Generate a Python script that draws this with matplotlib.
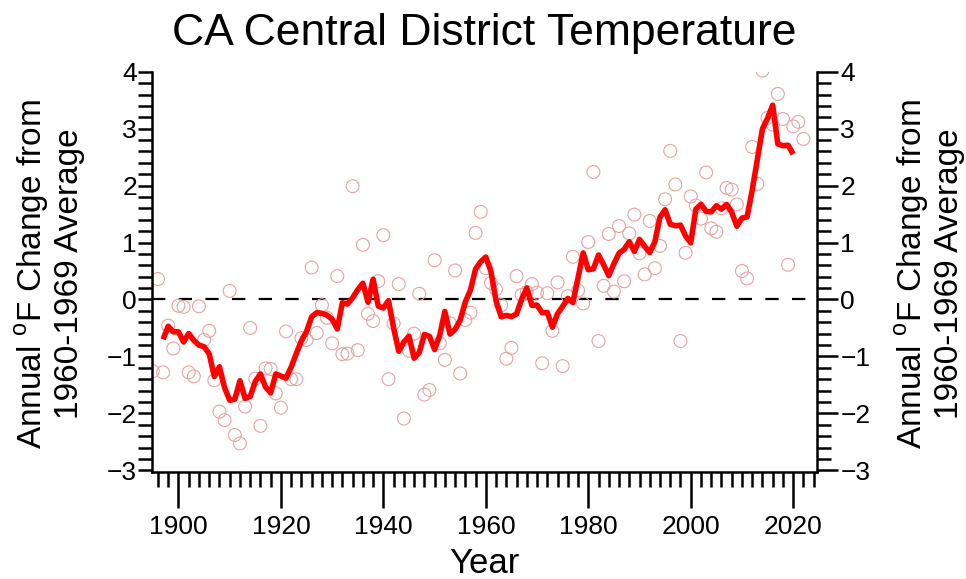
import matplotlib
matplotlib.use("Agg")
import matplotlib.pyplot as plt
import numpy as np
import pandas as pd
from matplotlib.ticker import MultipleLocator

plt.rcParams['font.family'] = ['Liberation Sans', 'DejaVu Sans']
plt.rcParams['mathtext.fontset'] = 'custom'
plt.rcParams['mathtext.rm'] = 'Liberation Sans'

# annual anomaly (deg F) from the 1960-1969 average
years = np.arange(1895, 2023)
anomaly = [
    -1.26, 0.36, -1.28, -0.46, -0.86,                                  # 1895-1899
    -0.11, -0.13, -1.28, -1.35, -0.12, -0.71, -0.55, -1.42, -1.97, -2.12,  # 1900s
    0.15, -2.38, -2.53, -1.88, -0.50, -1.39, -2.22, -1.21, -1.22, -1.65,   # 1910s
    -1.90, -0.56, -1.40, -1.40, -0.68, -0.71, 0.56, -0.59, -0.10, -0.32,   # 1920s
    -0.77, 0.41, -0.96, -0.95, 1.99, -0.89, 0.96, -0.25, -0.38, 0.32,      # 1930s
    1.13, -1.40, -0.42, 0.27, -2.09, -0.90, -0.60, 0.10, -1.67, -1.59,     # 1940s
    0.69, -0.77, -1.06, -0.42, 0.51, -1.30, -0.36, -0.23, 1.17, 1.54,      # 1950s
    0.55, 0.29, 0.18, -0.10, -1.04, -0.85, 0.41, 0.08, 0.13, 0.27,         # 1960s
    0.12, -1.12, 0.11, -0.55, 0.30, -1.17, 0.06, 0.75, 0.16, -0.07,        # 1970s
    1.01, 2.24, -0.73, 0.24, 1.15, 0.14, 1.29, 0.32, 1.16, 1.49,           # 1980s
    0.81, 0.44, 1.38, 0.55, 0.94, 1.76, 2.61, 2.02, -0.73, 0.82,           # 1990s
    1.81, 1.65, 1.42, 2.23, 1.25, 1.19, 1.60, 1.96, 1.93, 1.67,            # 2000s
    0.50, 0.37, 2.68, 2.03, 4.02, 3.19, 3.07, 3.61, 3.17, 0.61,            # 2010s
    3.04, 3.12, 2.82,                                                      # 2020s
]

# 5-year centred running mean, as in the original figure
smooth = pd.Series(anomaly).rolling(5, center=True).mean()

fig = plt.figure(figsize=(9.66, 5.79), dpi=100)
ax = fig.add_axes([0.1577, 0.1853, 0.6878, 0.6908])

ax.axhline(0, color='black', lw=1.6, ls=(0, (6, 6)), zorder=1)
ax.scatter(years, anomaly, s=86, facecolors='none', edgecolors='#e2a4a4',
           linewidths=0.8, zorder=2)
ax.plot(years, smooth, color='#ff0000', lw=4.0, solid_joinstyle='round',
        solid_capstyle='butt', zorder=3)

ax.set_xlim(1894.9, 2024.6)
ax.set_ylim(-3.025, 4.0)

ax.xaxis.set_major_locator(MultipleLocator(20))
ax.xaxis.set_minor_locator(MultipleLocator(2))
ax.yaxis.set_major_locator(MultipleLocator(1))
ax.yaxis.set_minor_locator(MultipleLocator(0.2))

# right-hand axis repeats the same scale
ax2 = ax.twinx()
ax2.set_ylim(ax.get_ylim())
ax2.yaxis.set_major_locator(MultipleLocator(1))
ax2.yaxis.set_minor_locator(MultipleLocator(0.2))

for side in ['left', 'bottom']:
    ax.spines[side].set_linewidth(1.8)
ax.spines['top'].set_visible(False)
ax.spines['right'].set_visible(False)
for side in ['left', 'top', 'bottom']:
    ax2.spines[side].set_visible(False)
ax2.spines['right'].set_linewidth(1.8)

ax.tick_params(axis='x', which='major', length=26, width=1.8, labelsize=19, pad=5)
ax.tick_params(axis='x', which='minor', length=11, width=1.8)
ax.tick_params(axis='y', which='both', length=10, width=1.8)
ax.tick_params(axis='y', which='major', labelsize=19, pad=1)
ax2.tick_params(axis='y', which='both', width=1.8)
ax2.tick_params(axis='y', which='major', length=15, labelsize=19, pad=2)
ax2.tick_params(axis='y', which='minor', length=10)

fig.text(0.5016, 0.922, 'CA Central District Temperature', fontsize=32,
         ha='center', va='baseline')
fig.text(0.5016, 0.026, 'Year', fontsize=25, ha='center', va='center')

ylab = 'Annual $^\\mathregular{o}$F Change from\n1960-1969 Average'
fig.text(0.0507, 0.527, ylab, fontsize=24, rotation=90, ha='center',
         va='center', multialignment='center', linespacing=1.15)
fig.text(0.962, 0.527, ylab, fontsize=24, rotation=90, ha='center',
         va='center', multialignment='center', linespacing=1.15)

fig.savefig('out.png', dpi=100)
